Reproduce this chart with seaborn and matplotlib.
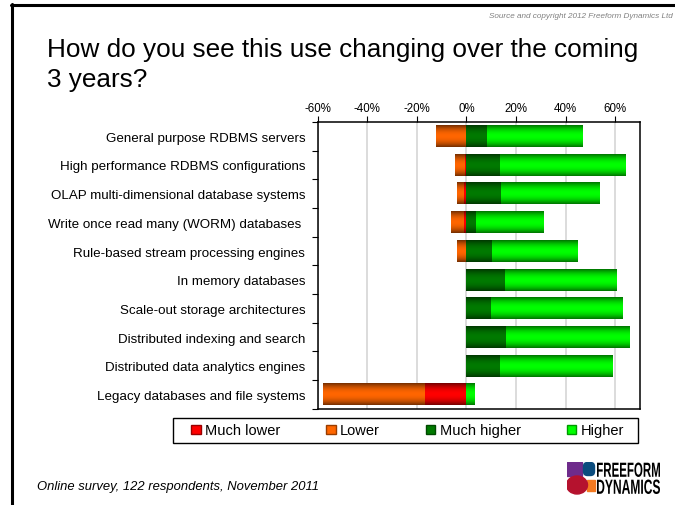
import numpy as np
import pandas as pd
import matplotlib
matplotlib.use("Agg")
import matplotlib.pyplot as plt
import matplotlib.patches as mpatches
from matplotlib.colors import to_rgba
from matplotlib.lines import Line2D
from matplotlib.textpath import TextPath
from matplotlib.font_manager import FontProperties
from matplotlib.transforms import Affine2D
import seaborn as sns

# values, % of respondents
categories = [
    "General purpose RDBMS servers",
    "High performance RDBMS configurations",
    "OLAP multi-dimensional database systems",
    "Write once read many (WORM) databases ",
    "Rule-based stream processing engines",
    "In memory databases",
    "Scale-out storage architectures",
    "Distributed indexing and search",
    "Distributed data analytics engines",
    "Legacy databases and file systems",
]
much_lower = [0.0, 0.5, 0.8, 0.8, 0.0, 0.0, 0.0, 0.0, 0.0, 16.8]
lower = [12.4, 4.3, 2.8, 5.6, 3.6, 0.0, 0.0, 0.0, 0.0, 41.2]
much_higher = [8.3, 13.6, 14.0, 4.0, 10.4, 15.6, 10.0, 16.0, 13.6, 0.0]
higher = [38.9, 50.8, 40.0, 27.2, 34.4, 45.2, 53.2, 50.0, 45.6, 3.6]
x_ticks = [-60, -40, -20, 0, 20, 40, 60]

colors = {"Much lower": "#ff0000", "Lower": "#ff6600",
          "Much higher": "#007a00", "Higher": "#00ff00"}

df = pd.DataFrame({"category": categories, "much_lower": much_lower, "lower": lower,
                   "much_higher": much_higher, "higher": higher})
df["neg_total"] = -(df.much_lower + df.lower)
df["neg_inner"] = -df.much_lower
df["pos_total"] = df.much_higher + df.higher
df["pos_inner"] = df.much_higher

sns.set_style("white")
plt.rcParams["font.family"] = ["Liberation Sans", "DejaVu Sans"]
plt.rcParams.update({"text.color": "black", "axes.labelcolor": "black",
                     "xtick.color": "black", "ytick.color": "black"})

W, H = 675, 506
fig = plt.figure(figsize=(6.75, 5.06), dpi=100)
ax = fig.add_axes([0.4707, 0.190, 0.4773, 0.567])

layers = [("neg_total", colors["Lower"]), ("neg_inner", colors["Much lower"]),
          ("pos_total", colors["Higher"]), ("pos_inner", colors["Much higher"])]
for col, c in layers:
    sns.barplot(data=df, x=col, y="category", color=c, width=0.75,
                saturation=1, orient="h", ax=ax)

# shaded (cylinder-like) look of the original bars
t = np.linspace(-1, 1, 64)
shade = 1 - 0.55 * np.abs(t) ** 2.0
for i, p in enumerate(ax.patches):
    w = p.get_width()
    if w == 0:
        p.set_visible(False)
        continue
    rgb = np.array(to_rgba(p.get_facecolor())[:3])
    img = np.ones((len(t), 1, 4))
    img[:, 0, :3] = shade[:, None] * rgb[None, :]
    x0, y0, h = p.get_x(), p.get_y(), p.get_height()
    ax.imshow(img, extent=(x0, x0 + w, y0 + h, y0), aspect="auto",
              interpolation="bilinear", zorder=2 + i * 0.01)
    p.set_visible(False)

ax.set_xlim(-60, 70)
ax.set_ylim(len(categories) - 0.5, -0.5)
ax.set_xlabel("")
ax.set_ylabel("")

ax.xaxis.tick_top()
ax.set_xticks(x_ticks)
ax.set_xticklabels([f"{v}%" for v in x_ticks])
ax.xaxis.grid(True, color="#d9d9d9", lw=1.3)
ax.set_axisbelow(True)
ax.tick_params(axis="x", direction="out", length=4, width=0.8, labelsize=8.3, pad=2)
ax.tick_params(axis="y", which="major", length=0, labelsize=9.6, pad=9)
ax.set_yticks(np.arange(-0.5, len(categories), 1), minor=True)
ax.tick_params(axis="y", which="minor", direction="out", length=4, width=0.8, left=True)
for s in ax.spines.values():
    s.set_color("black")
    s.set_linewidth(1.1)

# legend: drawn without frame, box added separately to match the wide frame
handles = [mpatches.Patch(facecolor=c, edgecolor=tuple(0.6 * np.array(to_rgba(c)[:3])))
           for c in colors.values()]
fig.legend(handles, list(colors.keys()), loc="center",
           bbox_to_anchor=(407.5 / W, 1 - 431.5 / H), ncol=4, frameon=False,
           handlelength=0.65, handleheight=0.65, handletextpad=0.3,
           columnspacing=3.15, fontsize=10.5, borderaxespad=0, borderpad=0)
fig.add_artist(mpatches.Rectangle((173 / W, 1 - 444 / H), 465 / W, 25 / H,
                                  transform=fig.transFigure, fill=False,
                                  edgecolor="black", lw=1.0))

fig.text(47 / W, 1 - 56.7 / H, "How do you see this use changing over the coming",
         fontsize=18.8, va="baseline", ha="left")
fig.text(47 / W, 1 - 87.3 / H, "3 years?", fontsize=18.8, va="baseline", ha="left")
fig.text(673 / W, 1 - 16 / H, "Source and copyright 2012 Freeform Dynamics Ltd",
         fontsize=5.9, style="italic", color="#808080", ha="right", va="center")
fig.text(37 / W, 1 - 487 / H, "Online survey, 122 respondents, November 2011",
         fontsize=9.4, style="italic", ha="left", va="center")

# slide frame
fig.add_artist(Line2D([11.5 / W, 11.5 / W], [1 - 5 / H, 0], transform=fig.transFigure,
                      color="black", lw=2.2))
fig.add_artist(Line2D([10.5 / W, 1], [1 - 6 / H, 1 - 6 / H], transform=fig.transFigure,
                      color="black", lw=2.2))

# logo
lax = fig.add_axes([567 / W, 1 - 496 / H, 95 / W, 33 / H])
lax.set_xlim(567, 662)
lax.set_ylim(496, 463)
lax.axis("off")
lax.add_patch(mpatches.Rectangle((567, 463), 15, 14, color="#6e2b8b"))
lax.add_patch(mpatches.FancyBboxPatch((584, 464), 10, 12, boxstyle="round,pad=0.5,rounding_size=4",
                                      color="#0b4c7e"))
lax.add_patch(mpatches.Rectangle((587, 481), 8, 11, color="#f47920"))
lax.add_patch(mpatches.Ellipse((577, 486), 21, 18, color="#b5122e"))
fp = FontProperties(family="Liberation Sans", weight="bold")
for txt, top, bottom in [("FREEFORM", 463.5, 478), ("DYNAMICS", 480.5, 495)]:
    tp = TextPath((0, 0), txt, size=1, prop=fp)
    ext = tp.get_extents()
    sx = 63 / ext.width
    sy = (bottom - top) / ext.height
    tr = Affine2D().translate(-ext.x0, -ext.y0).scale(sx, -sy).translate(597, bottom)
    lax.add_patch(mpatches.PathPatch(tr.transform_path(tp), color="black", lw=0))

fig.savefig("out.png", dpi=100)
